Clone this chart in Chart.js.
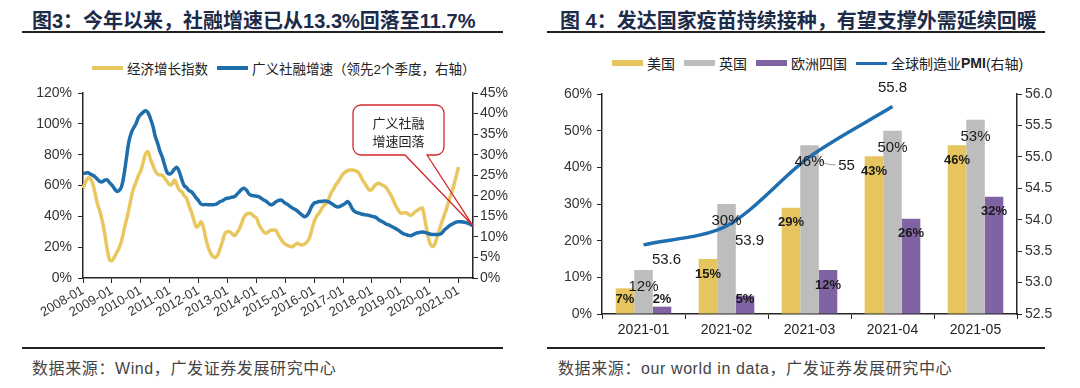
<!DOCTYPE html>
<html>
<head>
<meta charset="utf-8">
<script src="https://cdn.jsdelivr.net/npm/chart.js@4.4.1/dist/chart.umd.min.js"></script>
<style>
    body { margin: 0; background: #fff; }
    #wrap { position: relative; width: 1080px; height: 388px; overflow: hidden; font-family: "Liberation Sans", Arial, "Noto Sans CJK SC", sans-serif; }
    .title { position: absolute; top: 5px; font-size: 20px; font-weight: bold; color: #1d2b48; white-space: nowrap; }
    .rule { position: absolute; height: 2px; background: #222; }
    .src { position: absolute; top: 355px; font-size: 16px; color: #444; letter-spacing: 0.6px; white-space: nowrap; }
    .legend { position: absolute; font-size: 14px; color: #222; white-space: nowrap; display: flex; align-items: center; }
    .legend .sw { display: inline-block; width: 31px; margin-right: 4px; }
    .legend .item { display: flex; align-items: center; margin-right: 9px; }
    canvas { position: absolute; top: 76px; }
</style>
</head>
<body>
<div id="wrap">
    <div class="title" style="left:32px">图3：今年以来，社融增速已从13.3%回落至11.7%</div>
    <div class="rule" style="left:22px; top:31px; width:481px"></div>
    <div class="legend" style="left:92px; top:58px; font-size:13.5px">
        <span class="item"><span class="sw" style="height:4px; background:#e8c75f"></span>经济增长指数</span>
        <span class="item"><span class="sw" style="height:4px; background:#1f6eac"></span>广义社融增速（领先2个季度，右轴）</span>
    </div>
    <canvas id="leftChart" width="540" height="268" style="left:0"></canvas>
    <div class="rule" style="left:22px; top:347px; width:481px"></div>
    <div class="src" style="left:32px">数据来源：Wind，广发证券发展研究中心</div>

    <div class="title" style="left:560px">图 4：发达国家疫苗持续接种，有望支撑外需延续回暖</div>
    <div class="rule" style="left:547px; top:31px; width:498px"></div>
    <div class="legend" style="left:612px; top:53px">
        <span class="item"><span class="sw" style="height:6px; background:#e6c55f"></span>美国</span>
        <span class="item"><span class="sw" style="height:6px; background:#bdbdbd"></span>英国</span>
        <span class="item"><span class="sw" style="height:6px; background:#8063a3"></span>欧洲四国</span>
        <span class="item"><span class="sw" style="height:3px; background:#1f6eb0"></span>全球制造业<b>PMI</b>(右轴)</span>
    </div>
    <canvas id="rightChart" width="540" height="268" style="left:540px"></canvas>
    <div class="rule" style="left:547px; top:347px; width:498px"></div>
    <div class="src" style="left:558px">数据来源：our world in data，广发证券发展研究中心</div>
</div>

<script>
// ---- Figure 3 data (monthly, 2008-01 .. 2021-07) ----
const startYear = 2008;
const endYear = 2021;
const endMonth = 7;

// 经济增长指数 (left axis, %)
const growthIndex = [
    58.2, 62.0, 64.8, 64.5, 61.5, 55.0, 48.0, 43.5, 37.0, 29.0, 19.0, 12.0,
    11.2, 13.5, 16.5, 19.5, 24.0, 31.0, 37.5, 44.0, 52.0, 58.0, 62.0, 66.5,
    69.5, 75.0, 80.5, 82.0, 77.0, 73.3, 69.5, 67.3, 66.8, 66.6, 64.5, 62.5,
    60.5, 61.0, 63.6, 60.5, 57.0, 56.0, 53.5, 51.7, 47.0, 43.0, 38.0, 33.3,
    34.0, 36.5, 33.0, 25.7, 20.0, 16.0, 14.0, 13.2, 15.0, 19.3, 24.0, 29.0,
    30.0, 30.0, 28.5, 27.5, 29.5, 32.0, 36.0, 39.8, 41.5, 42.0, 41.5, 40.0,
    39.0, 35.0, 32.2, 30.0, 29.0, 30.0, 31.0, 31.1, 31.0, 28.5, 25.7, 23.5,
    21.9, 21.0, 20.5, 20.3, 21.5, 22.5, 21.8, 21.4, 22.0, 23.5, 25.7, 31.0,
    36.5, 40.0, 42.0, 44.5, 47.0, 48.4, 51.0, 55.0, 57.5, 60.5, 62.5, 65.0,
    67.5, 68.8, 69.7, 70.0, 70.0, 69.7, 69.0, 67.0, 64.0, 61.5, 59.0, 57.0,
    57.5, 59.5, 61.0, 61.4, 60.5, 59.8, 58.5, 56.0, 53.5, 50.0, 46.5, 44.0,
    42.0, 42.2, 42.4, 41.5, 40.6, 41.5, 43.0, 44.0, 45.0, 45.2, 38.0, 30.0,
    23.0, 20.5, 21.5, 26.0, 31.0, 36.0, 40.5, 45.0, 50.0, 55.0, 60.0, 66.0,
    72.0
];

// 广义社融增速, leading 2 quarters (right axis, %)
const tsfGrowth = [
    25.5, 25.5, 25.6, 25.3, 25.0, 24.6, 24.0, 23.5, 23.4, 23.8, 23.9, 23.2,
    22.6, 21.8, 21.1, 21.3, 22.2, 25.0, 29.0, 33.0, 35.2, 36.5, 37.5, 39.0,
    39.8, 40.3, 40.7, 40.2, 38.8, 37.0, 34.5, 32.8, 30.8, 29.3, 27.3, 25.6,
    25.3, 25.7, 26.5, 26.9, 25.8, 24.0, 22.5, 22.0, 21.3, 21.0, 20.3, 19.5,
    18.8, 18.0, 17.8, 17.9, 17.8, 17.8, 17.8, 17.9, 18.2, 18.6, 18.8, 19.2,
    19.4, 19.5, 19.7, 19.8, 20.4, 21.0, 21.6, 21.8, 21.3, 20.4, 20.1, 20.0,
    19.9, 19.8, 19.4, 19.0, 18.7, 18.2, 17.8, 18.0, 18.5, 18.8, 19.0, 18.7,
    18.2, 17.9, 17.4, 17.0, 16.7, 16.3, 15.8, 15.3, 14.9, 15.2, 16.1, 17.4,
    18.2, 18.4, 18.6, 18.6, 18.7, 18.7, 18.5, 18.2, 17.8, 17.4, 17.3, 17.5,
    17.8, 18.2, 18.6, 17.8, 16.7, 16.1, 15.9, 15.7, 15.5, 15.4, 15.3, 15.2,
    15.0, 14.9, 14.6, 14.1, 13.8, 13.5, 13.1, 12.9, 12.6, 12.3, 12.0, 11.6,
    11.2, 10.8, 10.6, 10.4, 10.3, 10.5, 10.8, 11.0, 11.1, 11.2, 11.1, 10.9,
    10.7, 10.6, 10.6, 10.6, 10.6, 10.9, 11.6, 12.1, 12.6, 13.0, 13.3, 13.6,
    13.7, 13.7, 13.6, 13.5, 13.3, 13.0, 12.7
];

// ---- Figure 4 data ----
const vacMonths = ['2021-01', '2021-02', '2021-03', '2021-04', '2021-05'];
const usShare = [7, 15, 29, 43, 46];
const ukShare = [12, 30, 46, 50, 53];
const eu4Share = [2, 5, 12, 26, 32];
const globalPmi = [53.6, 53.9, 55, 55.8, null];

const LATIN = '"Liberation Sans", Arial, "Noto Sans CJK SC", sans-serif';
const AXIS = '#262626';

// build month labels
const monthLabels = [];
for (let y = startYear; y <= endYear; y++) {
    for (let m = 1; m <= 12; m++) {
        if (y === endYear && m > endMonth) break;
        monthLabels.push(y + '-' + String(m).padStart(2, '0'));
    }
}
const isYearStart = (i) => monthLabels[i] && monthLabels[i].endsWith('-01');

// callout bubble on figure 3
const calloutPlugin = {
    id: 'callout',
    afterDatasetsDraw(chart) {
        const { ctx, chartArea, scales } = chart;
        const last = tsfGrowth.length - 1;
        const tipX = scales.x.getPixelForValue(last);
        const tipY = scales.y1.getPixelForValue(tsfGrowth[last]);
        const l = chartArea.right - 120, r = chartArea.right - 29;
        const t = chartArea.top + 12, b = chartArea.top + 62;
        const rad = 8;
        const b1 = l + 52, b2 = l + 74;

        ctx.save();
        ctx.fillStyle = '#fff';
        ctx.beginPath();
        ctx.roundRect(l, t, r - l, b - t, rad);
        ctx.fill();

        ctx.beginPath();
        ctx.moveTo(l + rad, t);
        ctx.lineTo(r - rad, t);
        ctx.arcTo(r, t, r, t + rad, rad);
        ctx.lineTo(r, b - rad);
        ctx.arcTo(r, b, r - rad, b, rad);
        ctx.lineTo(b2, b);
        ctx.lineTo(tipX, tipY);
        ctx.lineTo(b1, b);
        ctx.lineTo(l + rad, b);
        ctx.arcTo(l, b, l, b - rad, rad);
        ctx.lineTo(l, t + rad);
        ctx.arcTo(l, t, l + rad, t, rad);
        ctx.closePath();
        ctx.strokeStyle = '#d4262c';
        ctx.lineWidth = 1.3;
        ctx.stroke();

        ctx.fillStyle = '#222';
        ctx.font = '13px "Noto Sans CJK SC", sans-serif';
        ctx.textAlign = 'center';
        ctx.textBaseline = 'middle';
        ctx.fillText('广义社融', (l + r) / 2, t + 18);
        ctx.fillText('增速回落', (l + r) / 2, t + 36);
        ctx.restore();
    }
};

new Chart(document.getElementById('leftChart'), {
    type: 'line',
    data: {
        labels: monthLabels,
        datasets: [{
            label: '广义社融增速（领先2个季度，右轴）',
            data: tsfGrowth,
            yAxisID: 'y1',
            borderColor: '#1f6eac',
            borderWidth: 3.5,
            pointRadius: 0,
            tension: 0.4,
            order: 0
        }, {
            label: '经济增长指数',
            data: growthIndex,
            yAxisID: 'y',
            borderColor: '#e8c75f',
            borderWidth: 3.5,
            pointRadius: 0,
            tension: 0.4,
            order: 1
        }]
    },
    options: {
        responsive: false,
        animation: false,
        layout: { padding: { top: 17 } },
        plugins: { legend: { display: false }, tooltip: { enabled: false } },
        scales: {
            x: {
                type: 'category',
                afterFit: (s) => { s.height = 66; },
                border: { color: AXIS, width: 1.5 },
                grid: {
                    drawOnChartArea: false,
                    tickLength: 5,
                    color: (c) => (c.index !== undefined && isYearStart(c.index)) ? AXIS : 'rgba(0,0,0,0)'
                },
                ticks: {
                    autoSkip: false,
                    minRotation: 30,
                    maxRotation: 30,
                    padding: 0,
                    color: '#333',
                    font: { family: LATIN, size: 13 },
                    callback: (v, i) => isYearStart(i) ? monthLabels[i] : ''
                }
            },
            y: {
                position: 'left',
                min: 0, max: 120,
                afterFit: (s) => { s.width = 83; },
                border: { color: AXIS, width: 1.5 },
                grid: { drawOnChartArea: false, tickLength: 5, color: AXIS },
                ticks: { stepSize: 20, padding: 6, color: '#333', font: { family: LATIN, size: 14 }, callback: (v) => v + '%' }
            },
            y1: {
                position: 'right',
                min: 0, max: 45,
                afterFit: (s) => { s.width = 67; },
                border: { color: AXIS, width: 1.5 },
                grid: { drawOnChartArea: false, tickLength: 5, color: AXIS },
                ticks: { stepSize: 5, padding: 2, color: '#333', font: { family: LATIN, size: 14 }, callback: (v) => v + '%' }
            }
        }
    },
    plugins: [calloutPlugin]
});

// value labels on figure 4
const vacLabelPlugin = {
    id: 'vacLabels',
    afterDatasetsDraw(chart) {
        const { ctx, chartArea } = chart;
        ctx.save();
        ctx.textAlign = 'center';
        ctx.textBaseline = 'middle';
        ctx.fillStyle = '#1a1a1a';
        chart.data.datasets.forEach((ds, di) => {
            const meta = chart.getDatasetMeta(di);
            if (ds.type === 'line') {
                // offsets of the PMI labels from their points
                const place = [[23, 15], [23, 15], [37, 9], [0, -19]];
                ctx.font = '15px ' + LATIN;
                meta.data.forEach((pt, i) => {
                    const v = ds.data[i];
                    if (v === null || v === undefined) return;
                    const [dx, dy] = place[i];
                    if (i === 2) {
                        ctx.strokeStyle = '#a6a6a6';
                        ctx.lineWidth = 1.2;
                        ctx.beginPath();
                        ctx.moveTo(pt.x + 6, pt.y + 1);
                        ctx.quadraticCurveTo(pt.x + 14, pt.y + 8, pt.x + 26, pt.y + 8);
                        ctx.stroke();
                    }
                    ctx.fillText(String(v), pt.x + dx, pt.y + dy);
                });
            } else {
                const big = ds.label === '英国';
                ctx.font = big ? '15px ' + LATIN : 'bold 13px ' + LATIN;
                meta.data.forEach((bar, i) => {
                    let y = big ? bar.y + 17 : bar.y + 15;
                    y = Math.min(y, chartArea.bottom - 15);
                    ctx.fillText(ds.data[i] + '%', bar.x, y);
                });
            }
        });
        ctx.restore();
    }
};

new Chart(document.getElementById('rightChart'), {
    data: {
        labels: vacMonths,
        datasets: [{
            type: 'line',
            label: '全球制造业PMI(右轴)',
            data: globalPmi,
            yAxisID: 'y1',
            borderColor: '#1f6eb0',
            borderWidth: 3.5,
            pointRadius: 0,
            tension: 0.3,
            order: 0
        }, {
            type: 'bar',
            label: '美国',
            data: usShare,
            backgroundColor: '#e6c55f',
            categoryPercentage: 0.67,
            barPercentage: 1.0,
            order: 1
        }, {
            type: 'bar',
            label: '英国',
            data: ukShare,
            backgroundColor: '#bdbdbd',
            categoryPercentage: 0.67,
            barPercentage: 1.0,
            order: 1
        }, {
            type: 'bar',
            label: '欧洲四国',
            data: eu4Share,
            backgroundColor: '#8063a3',
            categoryPercentage: 0.67,
            barPercentage: 1.0,
            order: 1
        }]
    },
    options: {
        responsive: false,
        animation: false,
        layout: { padding: { top: 18 } },
        plugins: { legend: { display: false }, tooltip: { enabled: false } },
        scales: {
            x: {
                afterFit: (s) => { s.height = 30; },
                border: { color: AXIS, width: 1.5 },
                grid: { drawOnChartArea: false, tickLength: 5, color: AXIS, offset: true },
                ticks: { padding: 3, color: '#222', font: { family: LATIN, size: 14 } }
            },
            y: {
                position: 'left',
                min: 0, max: 60,
                afterFit: (s) => { s.width = 62; },
                border: { color: AXIS, width: 1.5 },
                grid: { drawOnChartArea: false, tickLength: 5, color: AXIS },
                ticks: { stepSize: 10, padding: 5, color: '#333', font: { family: LATIN, size: 14 }, callback: (v) => v + '%' }
            },
            y1: {
                position: 'right',
                min: 52.5, max: 56,
                afterFit: (s) => { s.width = 63; },
                border: { color: AXIS, width: 1.5 },
                grid: { drawOnChartArea: false, tickLength: 5, color: AXIS },
                ticks: { stepSize: 0.5, padding: 3, color: '#333', font: { family: LATIN, size: 14 }, callback: (v) => v.toFixed(1) }
            }
        }
    },
    plugins: [vacLabelPlugin]
});
</script>
</body>
</html>
